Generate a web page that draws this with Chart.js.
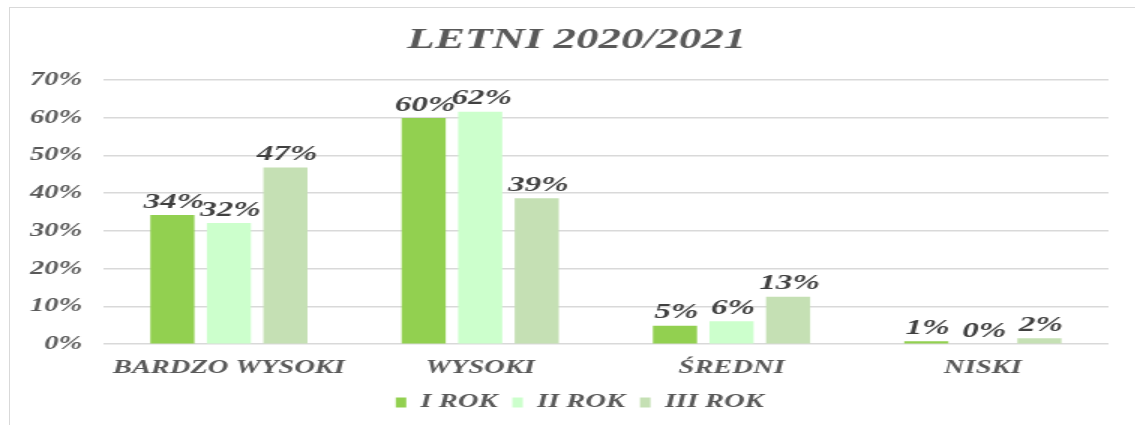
<!DOCTYPE html>
<html>
<head>
<meta charset="utf-8">
<script src="https://cdn.jsdelivr.net/npm/chart.js@4/dist/chart.umd.min.js"></script>
<style>
  html, body { margin: 0; padding: 0; background: #fff; overflow: hidden; }
  #frame { position: absolute; left: 9px; top: 7px; width: 1200px; height: 500px; border: 1px solid #d9d9d9; }
  /* the original picture is stretched sideways, so the canvas is too */
  #wrap { position: absolute; left: 0; top: 0; transform: scaleX(1.5); transform-origin: 0 0; }
</style>
</head>
<body>
<div id="frame"></div>
<div id="wrap"><canvas id="chart" width="757" height="425"></canvas></div>
<script>
// data
const categories = ['BARDZO WYSOKI', 'WYSOKI', 'ŚREDNI', 'NISKI'];
const seriesNames = ['I ROK', 'II ROK', 'III ROK'];
const rok1 = [34.2, 59.9, 4.9, 0.8];
const rok2 = [32.1, 61.6, 6.1, 0];
const rok3 = [46.8, 38.7, 12.6, 1.6];
const yTicks = [0, 10, 20, 30, 40, 50, 60, 70];

const colors = ['#92d050', '#ccffcc', '#c5e0b4'];
const serif = '"Liberation Serif", "Times New Roman", serif';
const gray = '#595959';

// value labels over the bars
const barLabels = {
  id: 'barLabels',
  afterDatasetsDraw(chart) {
    const ctx = chart.ctx;
    ctx.save();
    ctx.font = 'italic bold 22px ' + serif;
    ctx.fillStyle = '#404040';
    ctx.textAlign = 'center';
    ctx.textBaseline = 'bottom';
    chart.data.datasets.forEach((ds, i) => {
      chart.getDatasetMeta(i).data.forEach((bar, j) => {
        ctx.fillText(Math.round(ds.data[j]) + '%', bar.x + 1, bar.y - 2);
      });
    });
    ctx.restore();
  }
};

// title and legend sit a little right of centre in the original
const nudge = {
  id: 'nudge',
  afterLayout(chart) {
    const t = chart.titleBlock, l = chart.legend;
    if (t) { t.left += 12; t.right += 12; }
    if (l) { l.left += 14; l.right += 14; }
  }
};

new Chart(document.getElementById('chart'), {
  type: 'bar',
  data: {
    labels: categories,
    datasets: [rok1, rok2, rok3].map((d, i) => ({
      label: seriesNames[i],
      data: d,
      backgroundColor: colors[i],
      borderWidth: 0,
      categoryPercentage: 0.675,
      barPercentage: 0.78
    }))
  },
  options: {
    responsive: false,
    animation: false,
    layout: { padding: { top: 22, left: 6, right: 18, bottom: 3 } },
    plugins: {
      title: {
        display: true,
        text: 'LETNI 2020/2021',
        color: gray,
        font: { family: serif, size: 30, style: 'italic', weight: 'bold' },
        padding: { top: 0, bottom: 22 }
      },
      legend: {
        position: 'bottom',
        labels: {
          color: gray,
          boxWidth: 7,
          boxHeight: 10,
          padding: 10,
          font: { family: serif, size: 19, style: 'italic', weight: 'bold' }
        }
      },
      tooltip: { enabled: false }
    },
    scales: {
      x: {
        grid: { display: false },
        border: { display: false },
        ticks: {
          color: gray,
          padding: 4,
          font: { family: serif, size: 19, style: 'italic', weight: 'bold' }
        }
      },
      y: {
        min: yTicks[0],
        max: yTicks[yTicks.length - 1],
        afterBuildTicks: axis => { axis.ticks = yTicks.map(v => ({ value: v })); },
        grid: { color: '#d9d9d9', lineWidth: 1.5, drawTicks: false },
        border: { display: false },
        ticks: {
          color: gray,
          padding: 14,
          font: { family: serif, size: 19, style: 'italic', weight: 'bold' },
          callback: v => v + '%'
        }
      }
    }
  },
  plugins: [barLabels, nudge]
});
</script>
</body>
</html>
